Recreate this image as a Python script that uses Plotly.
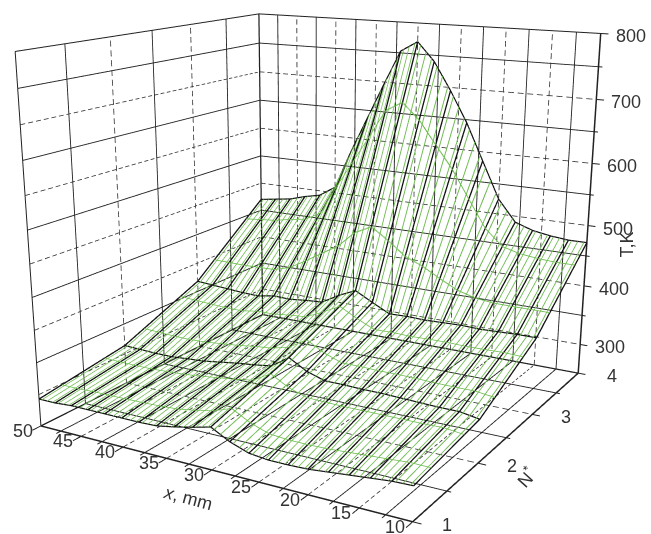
import numpy as np
import plotly.graph_objects as go

# ---- data ----
x_mm = [50,48,46,44,42,40,38,36,34,32,30,28,26,24,22,20,18,16,14,12,10]
N_values = [1,2,3,4]
T_N1 = [293,293,295,295,295,295,295,296,301,307,314,299,289,286,286,287,290,293,296,299,300]
T_N2 = [314,313,312,312,314,316,320,324,327,331,350,334,325,325,324,324,323,322,321,321,316]
T_N3 = [368,366,364,362,361,366,365,368,370,386,399,384,370,371,370,371,372,371,372,373,373]
T_N4 = [470,474,478,486,492,510,575,635,695,753,770,740,695,645,585,525,490,480,475,472,472]
x_major = [45,40,35,30,25,20,15]
x_minor = [47.5,42.5,37.5,32.5,27.5,22.5,17.5,12.5]
N_major = [2,3]
N_minor = [1.5,2.5,3.5]
T_major = [300,400,500,600,700]
T_minor = [350,450,550,650,750]
x_labels = [50,45,40,35,30,25,20,15,10]
N_labels = [1,2,3,4]
T_labels = [300,400,500,600,700,800]

# ---- view: Plotly's lens is fixed, and the reference has a longer, off-centre one.
# So the scene is larger than the window and moved to put its centre where the
# reference's is; only the part inside the window is seen. ----
EYE = (1.7466,-3.0499,0.9025)
CENTER = (0.4148,-0.7683,0.0411)
ASPECT = (1.1723,1.1937,1.03636)
W, H = 1000, 1099
OFFX, OFFY = -187.0, -236.6

def add_lines(fig,lines,color,width):
    xs,ys,zs=[],[],[]
    for (a,b) in lines:
        xs+=[-a[0],-b[0],None]; ys+=[a[1],b[1],None]; zs+=[a[2],b[2],None]
    fig.add_scatter3d(x=xs,y=ys,z=zs,mode='lines',line=dict(color=color,width=width),hoverinfo='skip')

def dashed(lines,n=38,on=0.62):
    out=[]
    for a,b in lines:
        a=np.array(a,float); b=np.array(b,float)
        for k in range(n):
            s=k/n; e=(k+on)/n
            out.append((tuple(a+(b-a)*s),tuple(a+(b-a)*e)))
    return out

def grid(xv,Nv,Tv):
    L=[]
    for n in Nv:
        L.append(((50,n,250),(50,n,800))); L.append(((50,n,250),(10,n,250)))
    for v in xv:
        L.append(((v,4,250),(v,4,800))); L.append(((v,1,250),(v,4,250)))
    for t in Tv:
        L.append(((50,1,t),(50,4,t))); L.append(((50,4,t),(10,4,t)))
    return L

T_grid=[T_N1,T_N2,T_N3,T_N4]
fig=go.Figure()
add_lines(fig,grid(x_minor,N_minor,T_minor),'#222222',1.8)
add_lines(fig,dashed(grid(x_major,N_major,T_major)),'#333333',1.6)
add_lines(fig,[((50,1,250),(50,1,800)),((50,1,800),(50,4,800)),((50,4,800),(10,4,800))],'#222222',2)
add_lines(fig,[((50,4,250),(50,4,800))],'#222222',2.5)
add_lines(fig,[((50,1,250),(50,4,250)),((50,4,250),(10,4,250))],'#222222',2.5)
add_lines(fig,[((50,1,250),(10,1,250)),((10,1,250),(10,4,250)),((10,4,250),(10,4,800))],'#222222',3)
tk=[]
for v in x_major+[50,10]:
    tk.append(((v,1,250),(v,0.91,250)))
for v in x_minor:
    tk.append(((v,1,250),(v,0.95,250)))
for n in N_major+[1,4]:
    tk.append(((10,n,250),(9.2,n,250)))
for n in N_minor:
    tk.append(((10,n,250),(9.6,n,250)))
for t in T_major+[800]:
    tk.append(((10,4,t),(9.2,4,t)))
for t in T_minor:
    tk.append(((10,4,t),(9.6,4,t)))
add_lines(fig,tk,'#222222',2)

# green hatch: contours placed so none falls on a black mesh line
for d in [0,0.04]:
    fig.add_surface(x=[-v for v in x_mm],y=N_values,z=T_grid,hidesurface=True,showscale=False,hoverinfo='skip',
        contours=dict(x=dict(show=True,start=-50+1/3+d,end=-10,size=2/3,color='#6dbb4e',width=1,highlight=False),
                      y=dict(show=True,start=1.25+d/12,end=4,size=0.5,color='#6dbb4e',width=1,highlight=False),
                      z=dict(show=False,highlight=False)))
cols=[]
for j,v in enumerate(x_mm):
    for i in range(3):
        cols.append(((v,N_values[i],T_grid[i][j]),(v,N_values[i+1],T_grid[i+1][j])))
add_lines(fig,cols,'#111111',2.6)
rows=[]
for i,n in enumerate(N_values):
    for j in range(len(x_mm)-1):
        rows.append(((x_mm[j],n,T_grid[i][j]),(x_mm[j+1],n,T_grid[i][j+1])))
add_lines(fig,rows,'#111111',2.4)

F=dict(family='Liberation Sans, Arial',size=18,color='#333333')
ann=[]
for v in x_labels:
    ann.append(dict(x=-v,y=1,z=250,text=str(v),showarrow=False,xshift=-18,yshift=-5,font=F))
for n in N_labels:
    ann.append(dict(x=-10,y=n,z=250,text=str(n),showarrow=False,xshift=34,yshift=-3,font=F))
for t in T_labels:
    ann.append(dict(x=-10,y=4,z=t,text=str(t),showarrow=False,xshift=30,yshift=-3,font=F))
ann.append(dict(x=-30,y=1,z=250,text='<i>x</i>, mm',textangle=15,showarrow=False,xshift=-24,yshift=-28,font=F))
ann.append(dict(x=-10,y=2,z=250,text='N<sup>*</sup>',textangle=-48,showarrow=False,xshift=48,yshift=-14,font=F))
ann.append(dict(x=-10,y=4,z=500,text='T,K',textangle=-90,showarrow=False,xshift=39,yshift=-19,font=F))

hid=dict(visible=False,showspikes=False)
fig.update_layout(width=W,height=H,margin=dict(l=0,r=0,t=0,b=0),showlegend=False,paper_bgcolor='white',
  scene=dict(domain=dict(x=[0,1],y=[0,1]),aspectmode='manual',aspectratio=dict(x=ASPECT[0],y=ASPECT[1],z=ASPECT[2]),bgcolor='white',
    camera=dict(eye=dict(x=EYE[0],y=EYE[1],z=EYE[2]),center=dict(x=CENTER[0],y=CENTER[1],z=CENTER[2]),up=dict(x=0,y=0,z=1)),
    xaxis=dict(range=[-51,-9],**hid),yaxis=dict(range=[.9,4.1],**hid),zaxis=dict(range=[240,810],**hid),annotations=ann))
post=f"var gd=document.getElementById('{{plot_id}}');document.documentElement.style.overflow='hidden';document.body.style.overflow='hidden';document.body.style.margin='0';gd.style.marginTop='{OFFY}px';gd.style.marginLeft='{OFFX}px';"
fig.write_html("out.html",post_script=post,config=dict(displayModeBar=False))
